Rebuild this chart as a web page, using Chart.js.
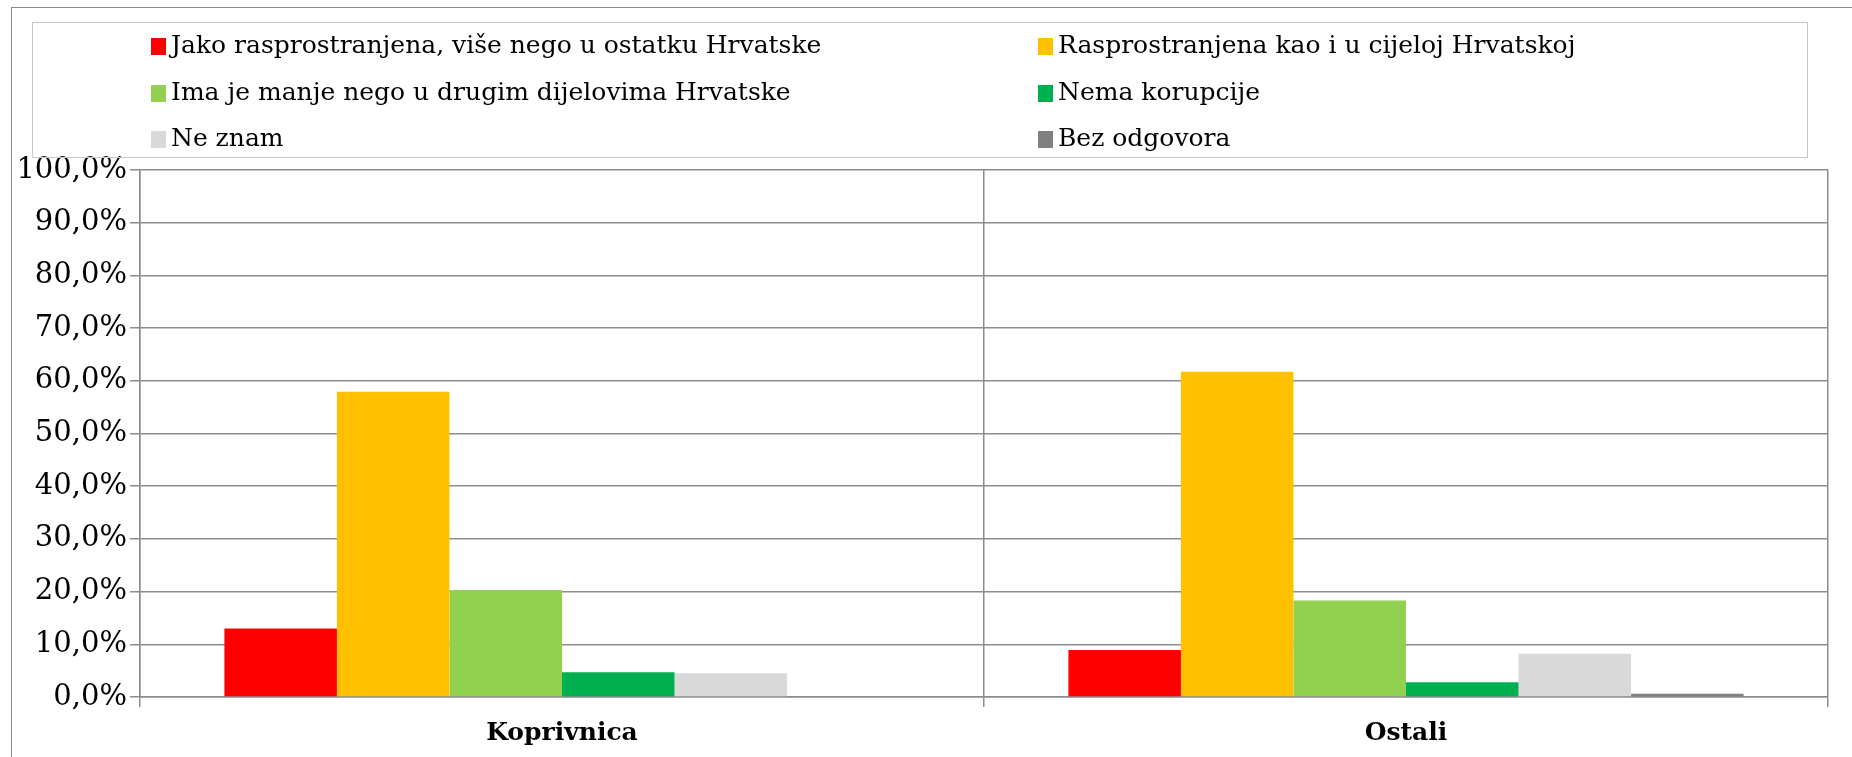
<!DOCTYPE html>
<html>
<head>
<meta charset="utf-8">
<script src="https://cdn.jsdelivr.net/npm/chart.js@4.4.1/dist/chart.umd.min.js"></script>
<style>
  html, body { margin: 0; padding: 0; background: #fff; }
  #wrap { position: relative; width: 1852px; height: 757px; overflow: hidden; }
  #frame { position: absolute; left: 11px; top: 7px; width: 1900px; height: 800px;
           border-left: 1.5px solid #8a8a8a; border-top: 1.5px solid #8a8a8a; box-sizing: border-box; }
  #legend { position: absolute; left: 32px; top: 22px; width: 1776px; height: 136px;
            border: 1px solid #c8c8c8; box-sizing: border-box; }
  .item { position: absolute; font-family: "DejaVu Serif", serif; font-size: 25px; color: #000;
          white-space: nowrap; line-height: 28px; }
  .sw { position: absolute; width: 15px; height: 17px; }
  canvas { position: absolute; left: 0; top: 0; }
</style>
</head>
<body>
<div id="wrap">
  <div id="frame"></div>
  <canvas id="c" width="1852" height="757"></canvas>
  <div id="legend"></div>
</div>
<script>
const categories = ['Koprivnica', 'Ostali'];
const seriesNames = [
  'Jako rasprostranjena, više nego u ostatku Hrvatske',
  'Rasprostranjena kao i u cijeloj Hrvatskoj',
  'Ima je manje nego u drugim dijelovima Hrvatske',
  'Nema korupcije',
  'Ne znam',
  'Bez odgovora'
];
const jakoRasprostranjena = [13.0, 8.9];
const rasprostranjena = [57.9, 61.7];
const manjeNego = [20.3, 18.3];
const nemaKorupcije = [4.7, 2.8];
const neZnam = [4.5, 8.2];
const bezOdgovora = [0.0, 0.6];
const seriesColors = ['#FF0000', '#FFC000', '#92D050', '#00B050', '#D9D9D9', '#808080'];
const yTickLabels = ['0,0%', '10,0%', '20,0%', '30,0%', '40,0%', '50,0%', '60,0%', '70,0%', '80,0%', '90,0%', '100,0%'];

const seriesValues = [jakoRasprostranjena, rasprostranjena, manjeNego, nemaKorupcije, neZnam, bezOdgovora];

const gridColor = '#8c8c8c';

new Chart(document.getElementById('c'), {
  type: 'bar',
  data: {
    labels: categories,
    datasets: seriesNames.map((name, i) => ({
      label: name,
      data: seriesValues[i],
      backgroundColor: seriesColors[i],
      borderWidth: 0,
      categoryPercentage: 0.8,
      barPercentage: 1.0
    }))
  },
  options: {
    responsive: false,
    animation: false,
    devicePixelRatio: 1,
    layout: { padding: { left: 0, right: 24, top: 170, bottom: 0 } },
    plugins: { legend: { display: false }, tooltip: { enabled: false } },
    scales: {
      x: {
        grid: { offset: true, color: gridColor, lineWidth: 1.5, tickLength: 10, drawOnChartArea: true },
        border: { color: gridColor, width: 1.5 },
        ticks: { color: '#000', padding: 11, font: { family: 'DejaVu Serif', size: 25, weight: 'bold' } },
        afterFit: (s) => { s.height = 60; }
      },
      y: {
        min: 0, max: 100,
        ticks: {
          stepSize: 10, color: '#000', padding: 3,
          font: { family: 'DejaVu Serif', size: 29 },
          callback: (v, i) => yTickLabels[i]
        },
        grid: { color: gridColor, lineWidth: 1.5, tickLength: 10 },
        border: { color: gridColor, width: 1.5 },
        afterFit: (s) => { s.width = 140; }
      }
    }
  }
});

// legend (two columns, three rows)
const legend = document.getElementById('legend');
const colX = [150 - 32, 1037 - 32];
const rowY = [45 - 22, 92 - 22, 138 - 22];
seriesNames.forEach((name, i) => {
  const col = i % 2, row = Math.floor(i / 2);
  const sw = document.createElement('div');
  sw.className = 'sw';
  sw.style.background = seriesColors[i];
  sw.style.left = colX[col] + 'px';
  sw.style.top = (rowY[row] - 8) + 'px';
  legend.appendChild(sw);
  const t = document.createElement('div');
  t.className = 'item';
  t.textContent = name;
  t.style.left = (colX[col] + 20) + 'px';
  t.style.top = (rowY[row] - 15) + 'px';
  legend.appendChild(t);
});
</script>
</body>
</html>
